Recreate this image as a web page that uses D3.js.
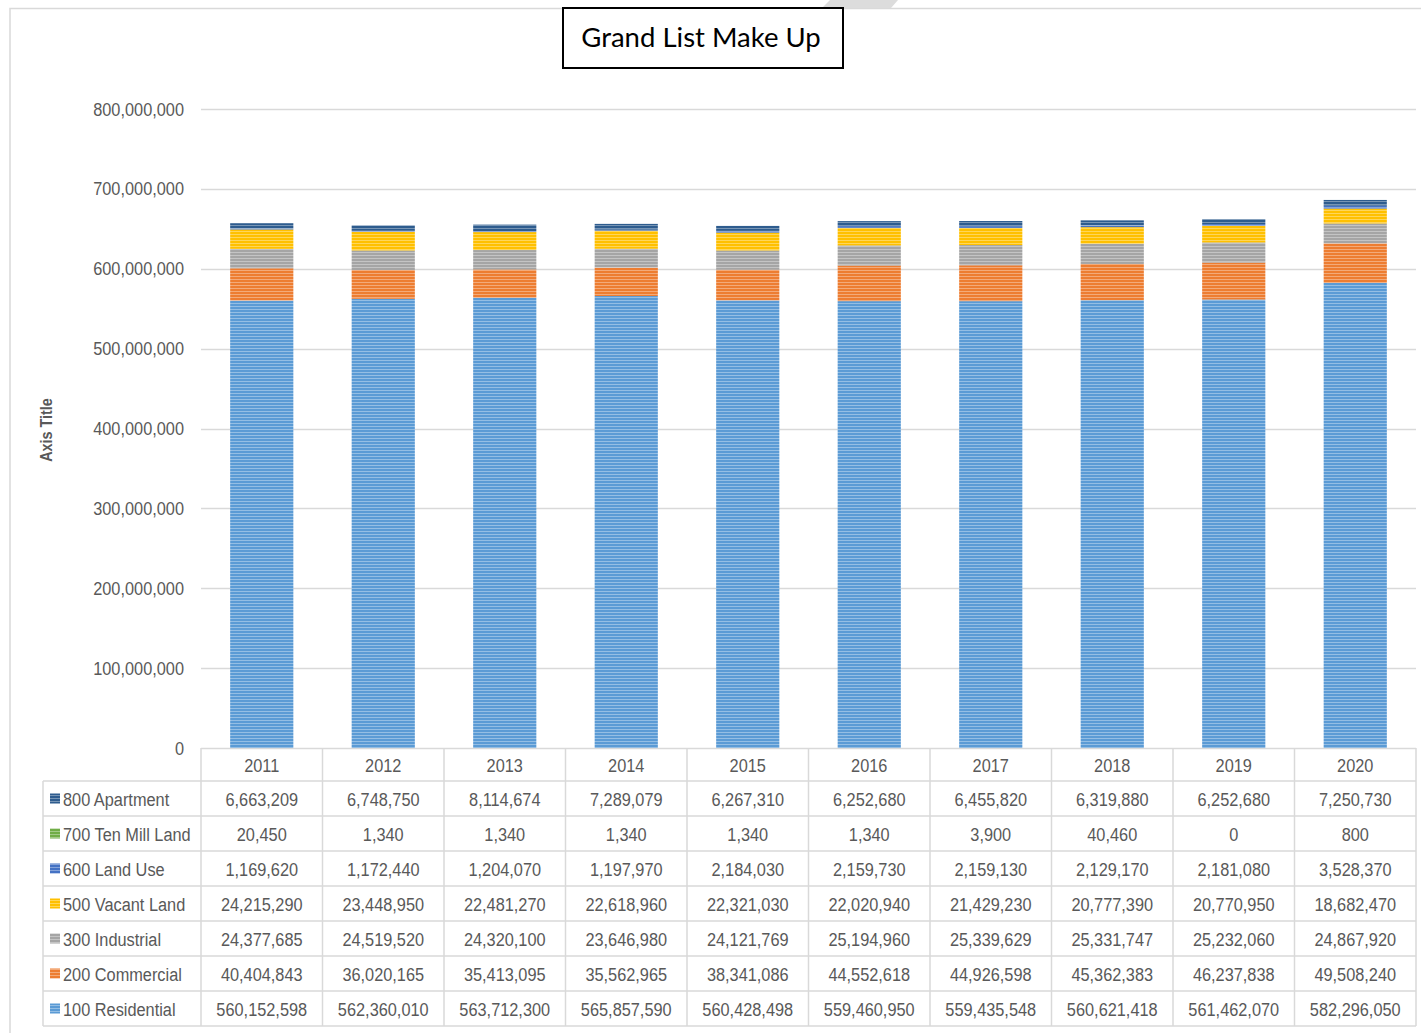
<!DOCTYPE html>
<html><head><meta charset="utf-8">
<script src="https://cdn.jsdelivr.net/npm/d3@7"></script>
<style>
body{margin:0;background:#fff;}
svg{display:block;}
</style></head>
<body>
<svg id="chart" width="1421" height="1033"></svg>
<script>
const years = ["2011","2012","2013","2014","2015","2016","2017","2018","2019","2020"];
const seriesNames = ["100 Residential","200 Commercial","300 Industrial","500 Vacant Land","600 Land Use","700 Ten Mill Land","800 Apartment"];
const residential = [560152598,562360010,563712300,565857590,560428498,559460950,559435548,560621418,561462070,582296050];
const commercial = [40404843,36020165,35413095,35562965,38341086,44552618,44926598,45362383,46237838,49508240];
const industrial = [24377685,24519520,24320100,23646980,24121769,25194960,25339629,25331747,25232060,24867920];
const vacantLand = [24215290,23448950,22481270,22618960,22321030,22020940,21429230,20777390,20770950,18682470];
const landUse = [1169620,1172440,1204070,1197970,2184030,2159730,2159130,2129170,2181080,3528370];
const tenMillLand = [20450,1340,1340,1340,1340,1340,3900,40460,0,800];
const apartment = [6663209,6748750,8114674,7289079,6267310,6252680,6455820,6319880,6252680,7250730];
const yTicks = [0,100000000,200000000,300000000,400000000,500000000,600000000,700000000,800000000];
const colors = ["#5B9BD5","#ED7D31","#A5A5A5","#FFC000","#4472C4","#70AD47","#2E5C8E"];

const valuesBySeries = [residential,commercial,industrial,vacantLand,landUse,tenMillLand,apartment];
const rows = years.map((y,i)=>{const o={year:y}; seriesNames.forEach((s,k)=>o[s]=valuesBySeries[k][i]); return o;});

const svg = d3.select("#chart");
const pL=201, pR=1416, pT=109, pB=748;
const SX = 0.86;
const txtFont = "'Liberation Sans', Arial, sans-serif";
const x = d3.scaleBand().domain(years).range([pL,pR]).paddingInner(0.48).paddingOuter(0.24);
const y = d3.scaleLinear().domain([0,800000000]).range([pB,pT]);

// condensed text helper
function ctext(g, tx, ty, str, anchor, size, color){
  return g.append("text").attr("transform",`translate(${tx},${ty}) scale(${SX},1)`)
    .attr("text-anchor",anchor||"start").attr("font-family",txtFont)
    .attr("font-size",(size||19)+"px").attr("fill",color||"#595959").text(str);
}

// patterns
const defs = svg.append("defs");
colors.forEach((c,i)=>{
  const p = defs.append("pattern").attr("id","pat"+i).attr("patternUnits","userSpaceOnUse")
    .attr("width",8).attr("height",3);
  p.append("rect").attr("width",8).attr("height",3).attr("fill",c);
  p.append("rect").attr("y",0).attr("width",8).attr("height",1).attr("fill","#fff").attr("opacity",0.35);
});

// outer frame
svg.append("path").attr("d","M830,0 L898,0 L891,8 L822,8 Z").attr("fill","#dcdcdc");
svg.append("path").attr("d","M10,1033 L10,8.5 L1421,8.5").attr("fill","none").attr("stroke","#d9d9d9").attr("stroke-width",1.5);

// gridlines
svg.append("g").selectAll("line").data(yTicks).join("line")
  .attr("x1",pL).attr("x2",pR).attr("y1",d=>Math.round(y(d))+0.5).attr("y2",d=>Math.round(y(d))+0.5)
  .attr("stroke","#d9d9d9").attr("stroke-width",1.5);

// y axis labels
const yAxis = d3.axisLeft(y).tickValues(yTicks).tickSize(0).tickPadding(0).tickFormat(d3.format(","));
const ya = svg.append("g").attr("transform",`translate(${pL-17},0)`).call(yAxis);
ya.select(".domain").remove();
ya.selectAll("text").attr("x",0).attr("fill","#595959").attr("font-family",txtFont)
  .attr("font-size","19px").attr("transform",`scale(${SX},1)`);

// axis title
svg.append("text").attr("transform","translate(52,430) rotate(-90) scale(0.9,1)").attr("text-anchor","middle")
  .attr("font-family",txtFont).attr("font-weight","bold")
  .attr("font-size","16px").attr("fill","#595959").text("Axis Title");

// stacked bars
const stack = d3.stack().keys(seriesNames)(rows);
svg.append("g").selectAll("g").data(stack).join("g")
  .attr("fill",(d,i)=>`url(#pat${i})`)
  .selectAll("rect").data(d=>d).join("rect")
  .attr("x",d=>x(d.data.year)).attr("width",x.bandwidth())
  .attr("y",d=>y(d[1])).attr("height",d=>Math.max(0,y(d[0])-y(d[1])));

// title box
svg.append("rect").attr("x",563).attr("y",8).attr("width",280).attr("height",60)
  .attr("fill","#fff").attr("stroke","#000").attr("stroke-width",2);
svg.append("text").attr("x",701).attr("y",47).attr("text-anchor","middle")
  .attr("font-family","Lato, 'Open Sans', sans-serif").attr("font-size","27.5px").attr("fill","#000")
  .text("Grand List Make Up");

// data table
const tableLeft = 43;
const headerTop = pB, headerBottom = 781, rowH = 35;
const tableRows = seriesNames.slice().reverse();
const tableBottom = headerBottom + rowH*tableRows.length;
const tg = svg.append("g");
const lineColor = "#d9d9d9";
const vx = [pL].concat(years.map((yr,i)=>pL + x.step()*(i+1)));
vx.forEach(vxx=>{
  tg.append("line").attr("x1",vxx).attr("x2",vxx).attr("y1",headerTop).attr("y2",tableBottom)
    .attr("stroke",lineColor).attr("stroke-width",1.5);
});
tg.append("line").attr("x1",tableLeft).attr("x2",tableLeft).attr("y1",headerBottom).attr("y2",tableBottom)
  .attr("stroke",lineColor).attr("stroke-width",1.5);
d3.range(tableRows.length+1).forEach(k=>{
  const yy = headerBottom + k*rowH;
  tg.append("line").attr("x1",tableLeft).attr("x2",pR).attr("y1",yy).attr("y2",yy).attr("stroke",lineColor).attr("stroke-width",1.5);
});
years.forEach(yr=>{
  ctext(tg, x(yr)+x.bandwidth()/2, (headerTop+headerBottom)/2+7, yr, "middle");
});
const fmt = d3.format(",");
tableRows.forEach((s,k)=>{
  const si = seriesNames.indexOf(s);
  const cy = headerBottom + k*rowH + rowH/2;
  tg.append("rect").attr("x",50).attr("y",cy-5).attr("width",10).attr("height",10).attr("fill",`url(#pat${si})`);
  ctext(tg, 63, cy+7, s, "start");
  years.forEach((yr,i)=>{
    ctext(tg, x(yr)+x.bandwidth()/2, cy+7, fmt(valuesBySeries[si][i]), "middle");
  });
});
</script>
</body></html>
